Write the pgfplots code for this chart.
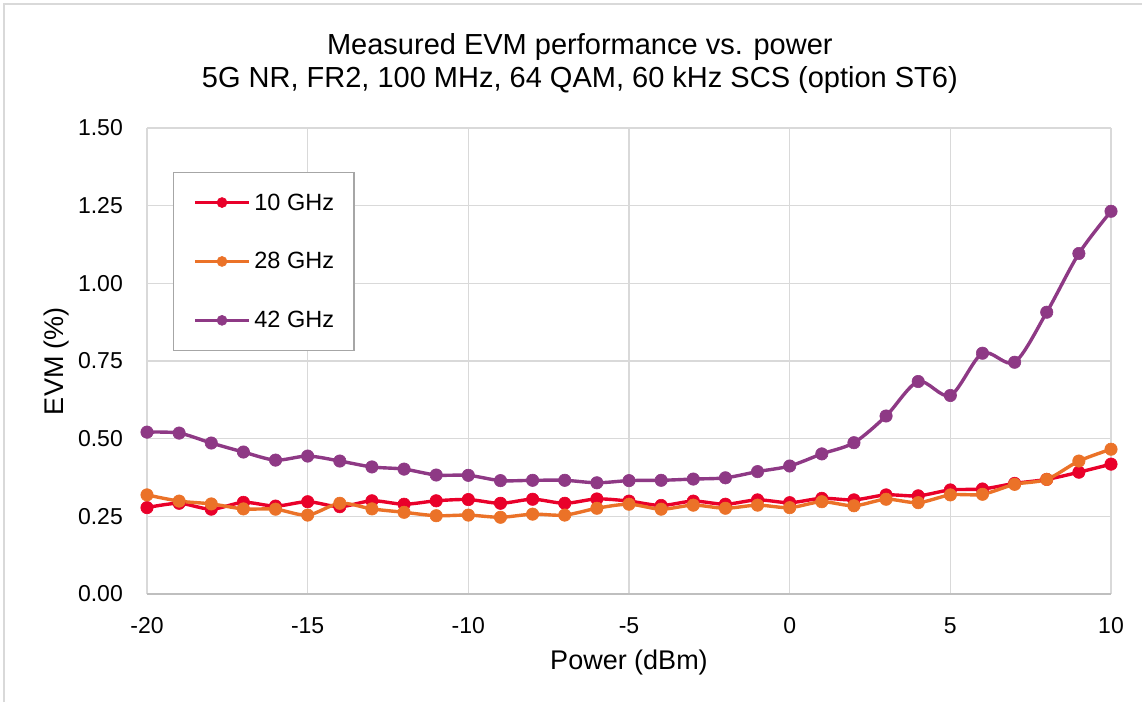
\documentclass[border=0pt]{standalone}
\usepackage{fontspec}
\setmainfont{Liberation Sans}
\usepackage{pgfplots}
\pgfplotsset{compat=1.18}
\definecolor{cRed}{RGB}{233,0,42}
\definecolor{cOrange}{RGB}{235,114,40}
\definecolor{cPurple}{RGB}{142,57,133}
\definecolor{gridgray}{RGB}{217,217,217}
\definecolor{axisgray}{RGB}{191,191,191}
\definecolor{leggray}{RGB}{166,166,166}
\begin{document}
\begin{tikzpicture}
\useasboundingbox (0,0) rectangle (1142pt,702pt);
\draw[gridgray, line width=1.5pt] (4pt,0pt) -- (4pt,698pt) -- (1142pt,698pt);
\begin{axis}[
  at={(147pt,108pt)}, anchor=south west,
  width=964pt, height=466pt, scale only axis,
  xmin=-20, xmax=10, ymin=0, ymax=1.5,
  xtick={-20,-15,-10,-5,0,5,10},
  xticklabels={-20,-15,-10,-5,0,5,10},
  ytick={0,0.25,0.5,0.75,1,1.25,1.5},
  yticklabels={0.00,0.25,0.50,0.75,1.00,1.25,1.50},
  major tick length=0pt,
  axis line style={draw=none},
  grid=major,
  major grid style={color=gridgray, line width=1.5pt},
  extra y ticks={0}, extra y tick labels={},
  extra y tick style={grid=major, major grid style={color=axisgray, line width=1.8pt}},
  ticklabel style={font=\fontsize{23}{27}\selectfont, text=black},
  xticklabel style={anchor=north, inner sep=0pt, yshift=-23pt},
  yticklabel style={anchor=east, inner sep=0pt, xshift=-24pt},
  xlabel={Power (dBm)},
  ylabel={EVM (\%)},
  xlabel style={at={(axis description cs:0.5,-0.1475)}, anchor=center, font=\fontsize{27}{32}\selectfont},
  ylabel style={at={(axis description cs:-0.0934,0.5)}, anchor=center, font=\fontsize{27}{32}\selectfont},
  title={Measured EVM performance vs. power\\5G NR, FR2, 100 MHz, 64 QAM, 60 kHz SCS (option ST6)},
  title style={at={(axis description cs:0.449,1.1245)}, anchor=center, align=center, font=\fontsize{29}{33}\selectfont},
  legend style={at={(axis description cs:0.027,0.9056)}, anchor=north west,
    draw=leggray, line width=1.2pt, fill=white,
    inner xsep=20pt, inner ysep=21pt, row sep=41pt,
    nodes={inner sep=0pt}, font=\fontsize{23.5}{28}\selectfont},
  legend cell align=left,
  /tikz/every odd column/.append style={column sep=4pt},
  legend image code/.code={\draw[mark repeat=2,mark phase=2,line width=2.8pt,mark size=5pt] plot coordinates {(0pt,0pt)(27pt,0pt)(54pt,0pt)};},
  every axis plot/.append style={line width=3.4pt, smooth, tension=0.5, mark=*, mark size=6.2pt, mark options={solid, line width=0.6pt}},
]
\addplot[color=cRed] coordinates {
(-20,0.278) (-19,0.292) (-18,0.273) (-17,0.295) (-16,0.283) (-15,0.297) (-14,0.281) (-13,0.300) (-12,0.289) (-11,0.300) (-10,0.304)
(-9,0.292) (-8,0.305) (-7,0.292) (-6,0.306) (-5,0.299) (-4,0.285) (-3,0.299) (-2,0.289) (-1,0.303) (0,0.294)
(1,0.308) (2,0.303) (3,0.319) (4,0.316) (5,0.335) (6,0.338) (7,0.356) (8,0.369) (9,0.392) (10,0.418)};
\addlegendentry{10 GHz}
\addplot[color=cOrange] coordinates {
(-20,0.319) (-19,0.299) (-18,0.290) (-17,0.274) (-16,0.273) (-15,0.254) (-14,0.292) (-13,0.274) (-12,0.263) (-11,0.252) (-10,0.254)
(-9,0.247) (-8,0.257) (-7,0.254) (-6,0.276) (-5,0.289) (-4,0.273) (-3,0.286) (-2,0.276) (-1,0.286) (0,0.278)
(1,0.297) (2,0.284) (3,0.305) (4,0.294) (5,0.319) (6,0.321) (7,0.353) (8,0.369) (9,0.428) (10,0.466)};
\addlegendentry{28 GHz}
\addplot[color=cPurple] coordinates {
(-20,0.521) (-19,0.518) (-18,0.486) (-17,0.457) (-16,0.431) (-15,0.444) (-14,0.428) (-13,0.409) (-12,0.402) (-11,0.383) (-10,0.382)
(-9,0.365) (-8,0.366) (-7,0.366) (-6,0.358) (-5,0.365) (-4,0.366) (-3,0.370) (-2,0.374) (-1,0.394) (0,0.412)
(1,0.451) (2,0.487) (3,0.573) (4,0.684) (5,0.639) (6,0.775) (7,0.746) (8,0.907) (9,1.096) (10,1.232)};
\addlegendentry{42 GHz}
\end{axis}
\end{tikzpicture}
\end{document}
